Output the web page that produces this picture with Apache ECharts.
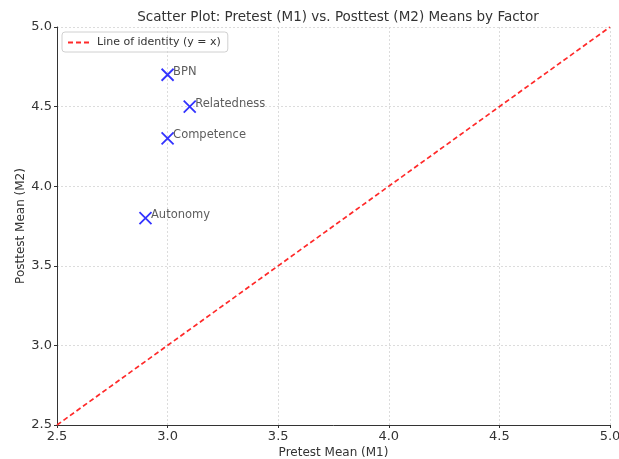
<!DOCTYPE html>
<html><head><meta charset="utf-8">
<script src="https://cdn.jsdelivr.net/npm/echarts@6/dist/echarts.min.js"></script>
<style>html,body{margin:0;padding:0;background:#fff}#c{width:619px;height:459px}</style>
</head><body><div id="c"></div>
<script>
const factors = ['BPN', 'Relatedness', 'Competence', 'Autonomy'];
const pretestM1 = [3.0, 3.1, 3.0, 2.9];
const posttestM2 = [4.7, 4.5, 4.3, 3.8];
const identityX = [2.5, 5.0];
const identityY = [2.5, 5.0];
const axisMin = 2.5, axisMax = 5.0, axisStep = 0.5;

const font = 'DejaVu Sans';
const chart = echarts.init(document.getElementById('c'), null, {renderer: 'canvas'});
const pts = factors.map((f, i) => ({name: f, value: [pretestM1[i], posttestM2[i]]}));
const idLine = identityX.map((x, i) => [x, identityY[i]]);

chart.setOption({
  animation: false,
  textStyle: {fontFamily: font},
  title: {
    text: 'Scatter Plot: Pretest (M1) vs. Posttest (M2) Means by Factor',
    left: 333, top: 5, textAlign: 'center',
    textStyle: {fontFamily: font, fontSize: 13.5, fontWeight: 'normal', color: '#333'}
  },
  legend: {
    left: 62, top: 32, orient: 'vertical',
    padding: [5, 7, 4, 5],
    borderColor: '#d0d0d0', borderWidth: 1, borderRadius: 3,
    itemWidth: 24, itemHeight: 10, itemGap: 6,
    textStyle: {fontFamily: font, fontSize: 11, color: '#333'},
    data: [{name: 'Line of identity (y = x)', itemStyle: {opacity: 0}}]
  },
  grid: {left: 57, right: 9, top: 27, bottom: 34, containLabel: false, outerBoundsMode: 'none'},
  xAxis: {
    type: 'value', min: axisMin, max: axisMax, interval: axisStep,
    name: 'Pretest Mean (M1)', nameLocation: 'middle', nameGap: 22, nameMoveOverlap: false,
    nameTextStyle: {fontFamily: font, fontSize: 12, color: '#333'},
    axisLine: {show: true, onZero: false, lineStyle: {color: '#333', width: 1}},
    axisTick: {show: true, length: 3, lineStyle: {color: '#333'}},
    axisLabel: {fontFamily: font, fontSize: 13, color: '#333', margin: 5, formatter: v => v.toFixed(1)},
    splitLine: {show: true, lineStyle: {color: '#d4d4d4', type: [2, 2], width: 0.8}}
  },
  yAxis: {
    type: 'value', min: axisMin, max: axisMax, interval: axisStep,
    name: 'Posttest Mean (M2)', nameLocation: 'middle', nameGap: 30, nameRotate: 90, nameMoveOverlap: false,
    nameTextStyle: {fontFamily: font, fontSize: 12, color: '#333'},
    axisLine: {show: true, onZero: false, lineStyle: {color: '#333', width: 1}},
    axisTick: {show: true, length: 3, lineStyle: {color: '#333'}},
    axisLabel: {fontFamily: font, fontSize: 13, color: '#333', margin: 5, formatter: v => v.toFixed(1)},
    splitLine: {show: true, lineStyle: {color: '#d4d4d4', type: [2, 2], width: 0.8}}
  },
  series: [
    {
      name: 'Line of identity (y = x)', type: 'line', data: idLine,
      symbol: 'none', showSymbol: false,
      lineStyle: {color: '#ff2a2a', width: 1.7, type: [5, 3]},
      itemStyle: {color: '#ff2a2a'}, z: 3
    },
    {
      name: 'points', type: 'scatter', data: pts,
      symbol: 'path://M0,0L10,10M10,0L0,10', symbolSize: 12,
      itemStyle: {color: 'none', borderColor: '#0000ff', borderWidth: 1.8},
      label: {
        show: true, position: 'right', distance: -3, offset: [0, -3],
        formatter: p => p.name,
        fontFamily: font, fontSize: 11.5, color: '#333'
      },
      z: 4
    }
  ]
});
</script></body></html>
